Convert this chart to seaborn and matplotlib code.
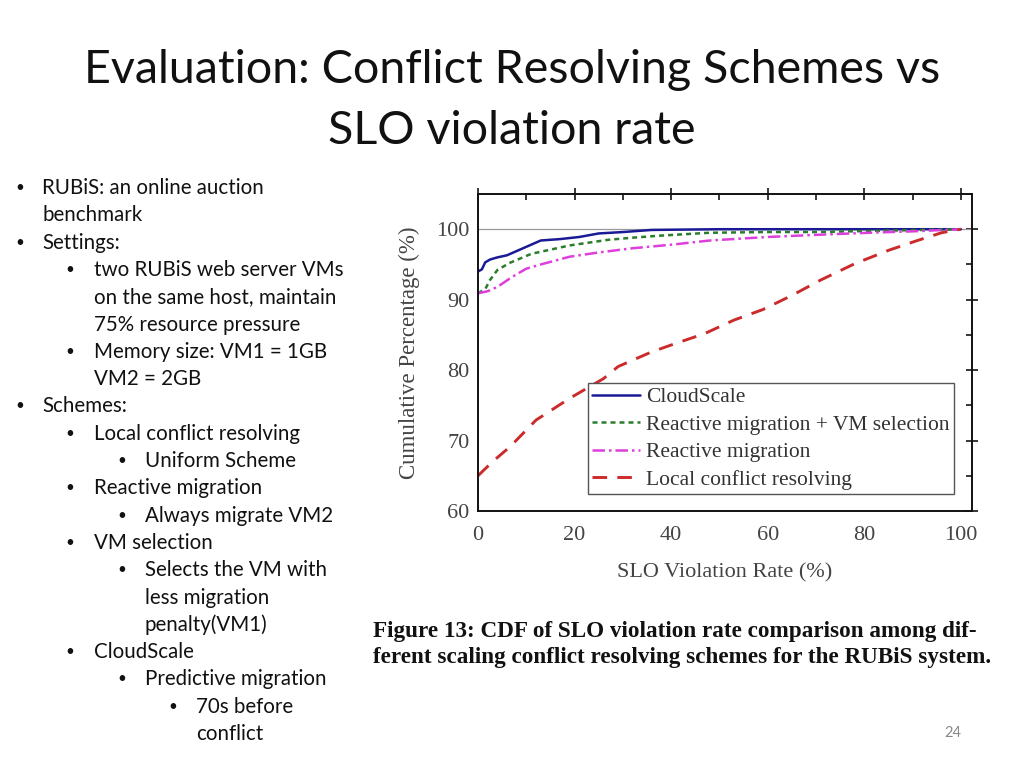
import pandas as pd
import numpy as np
import seaborn as sns
import matplotlib.pyplot as plt

# data
cloudscale_x = [0, 0.8, 1.5, 2.5, 4, 6, 9, 13, 17, 21, 25, 30, 36, 50, 70, 100]
cloudscale_y = [94.0, 94.3, 95.3, 95.7, 96.0, 96.3, 97.2, 98.4, 98.6, 98.9, 99.4, 99.6, 99.9, 100, 100, 100]

rm_vm_x = [0, 1.5, 2.5, 4, 6.5, 11, 15, 19, 23, 27, 32, 38, 48, 60, 70, 85, 100]
rm_vm_y = [90.9, 91.5, 92.8, 94.2, 95.2, 96.5, 97.1, 97.7, 98.1, 98.5, 98.8, 99.1, 99.5, 99.6, 99.6, 99.8, 100]

rm_x = [0, 2, 4, 7, 10, 13, 19, 25, 32, 40, 48, 60, 70, 81, 90, 100]
rm_y = [90.9, 91.2, 91.8, 93.2, 94.4, 95.0, 96.1, 96.7, 97.3, 97.8, 98.4, 98.9, 99.2, 99.5, 99.7, 100]

local_x = [0, 3, 6.6, 12, 19, 26, 29, 36, 41, 47, 53, 59, 65, 71, 78, 85, 91, 96, 100]
local_y = [65.0, 67.0, 69.1, 72.9, 76.0, 78.8, 80.5, 82.6, 83.8, 85.2, 87.1, 88.6, 90.6, 92.8, 95.1, 97.0, 98.4, 99.5, 100]

series_names = ["CloudScale", "Reactive migration + VM selection",
                "Reactive migration", "Local conflict resolving"]

bullets = [
    (1, True, "RUBiS: an online auction"),
    (1, False, "benchmark"),
    (1, True, "Settings:"),
    (2, True, "two RUBiS web server VMs"),
    (2, False, "on the same host, maintain"),
    (2, False, "75% resource pressure"),
    (2, True, "Memory size: VM1 = 1GB"),
    (2, False, "VM2 = 2GB"),
    (1, True, "Schemes:"),
    (2, True, "Local conflict resolving"),
    (3, True, "Uniform Scheme"),
    (2, True, "Reactive migration"),
    (3, True, "Always migrate VM2"),
    (2, True, "VM selection"),
    (3, True, "Selects the VM with"),
    (3, False, "less migration"),
    (3, False, "penalty(VM1)"),
    (2, True, "CloudScale"),
    (3, True, "Predictive migration"),
    (4, True, "70s before"),
    (4, False, "conflict"),
]

sns.set_style("white")
plt.rcParams["font.family"] = ["Lato", "DejaVu Sans"]

W, H = 1024, 768
fig = plt.figure(figsize=(W / 100, H / 100), dpi=100)
fig.patch.set_facecolor("white")

# slide title
fig.text(512 / W, 1 - 70 / H, "Evaluation: Conflict Resolving Schemes vs",
         ha="center", va="center", fontsize=33.6, color="#111111")
fig.text(512 / W, 1 - 131 / H, "SLO violation rate",
         ha="center", va="center", fontsize=33.6, color="#111111")

# bullet list
bullet_x = {1: 15, 2: 65, 3: 117, 4: 168}
text_x = {1: 42, 2: 94, 3: 145, 4: 196}
for i, (lvl, has_bullet, txt) in enumerate(bullets):
    y = 1 - (188 + i * 27.3) / H
    if has_bullet:
        fig.text(bullet_x[lvl] / W, y, "\u2022", ha="left", va="center",
                 fontsize=11, color="#111111")
    fig.text(text_x[lvl] / W, y, txt, ha="left", va="center",
             fontsize=14.8, color="#111111")

# chart
ax = fig.add_axes([478 / W, 1 - 511 / H, 494 / W, 317 / H])
serif = ["Liberation Serif", "DejaVu Serif"]

ax.axhline(100, color="#999999", lw=0.9, zorder=1)

sns.lineplot(x=cloudscale_x, y=cloudscale_y, ax=ax, color="#1a1a96", lw=1.8,
             linestyle="-", label=series_names[0])
sns.lineplot(x=rm_vm_x, y=rm_vm_y, ax=ax, color="#2a7d2a", lw=1.8,
             linestyle=(0, (2, 1.6)), label=series_names[1])
sns.lineplot(x=rm_x, y=rm_y, ax=ax, color="#dd3fdd", lw=1.8,
             linestyle=(0, (5, 1.6, 1, 1.6)), label=series_names[2])
sns.lineplot(x=local_x, y=local_y, ax=ax, color="#cc2b2b", lw=2.1,
             linestyle=(0, (5, 3.5)), label=series_names[3])

ax.set_xlim(0, 102.3)
ax.set_ylim(60, 105)
ax.set_xticks([0, 20, 40, 60, 80, 100])
ax.set_xticks(np.arange(10, 101, 20), minor=True)
ax.set_yticks([60, 70, 80, 90, 100])
ax.set_yticks([65, 75, 85, 95], minor=True)
ax.tick_params(which="major", direction="inout", length=8, width=1.3,
               top=True, right=True, labelsize=16, labelcolor="#444444")
ax.tick_params(axis="x", which="major", pad=7)
ax.tick_params(axis="y", which="major", pad=2)
ax.tick_params(which="minor", direction="in", length=4, width=1.3,
               top=True, right=True)
for lab in ax.get_xticklabels() + ax.get_yticklabels():
    lab.set_family(serif)
for sp in ax.spines.values():
    sp.set_visible(True)
    sp.set_color("#111111")
    sp.set_linewidth(1.4)

ax.set_xlabel("SLO Violation Rate (%)", family=serif, fontsize=16,
              color="#444444", labelpad=13)
ax.set_ylabel("Cumulative Percentage (%)", family=serif, fontsize=16.5,
              color="#444444", labelpad=12)

leg = ax.legend(loc="upper right", bbox_to_anchor=(0.9636, 0.4038),
                borderaxespad=0, fancybox=False, framealpha=1,
                edgecolor="#555555", handlelength=2.2, handletextpad=0.3,
                labelspacing=0.34, borderpad=0.2,
                prop={"family": serif, "size": 15.5})
for t in leg.get_texts():
    t.set_color("#333333")

# figure caption
fig.text(373 / W, 1 - 631 / H,
         "Figure 13: CDF of SLO violation rate comparison among dif-",
         ha="left", va="center", fontsize=16.7, fontweight="bold",
         family=serif, color="#111111")
fig.text(373 / W, 1 - 658 / H,
         "ferent scaling conflict resolving schemes for the RUBiS system.",
         ha="left", va="center", fontsize=16.7, fontweight="bold",
         family=serif, color="#111111")

# slide number
fig.text(953 / W, 1 - 733 / H, "24", ha="center", va="center",
         fontsize=10.5, color="#888888")

fig.savefig("out.png", dpi=100)
